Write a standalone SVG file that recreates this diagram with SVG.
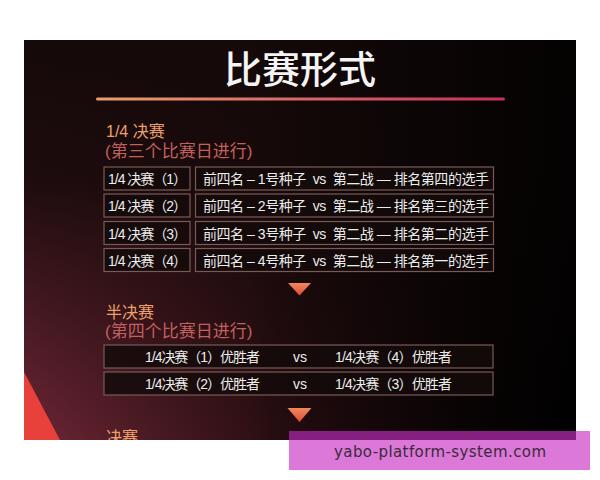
<svg xmlns="http://www.w3.org/2000/svg" width="600" height="480" viewBox="0 0 600 480">
<defs>
<linearGradient id="bgH" x1="0" y1="0" x2="1" y2="0">
<stop offset="0" stop-color="#6e2636"/>
<stop offset="0.45" stop-color="#2a0e12"/>
<stop offset="1" stop-color="#060303"/>
</linearGradient>
<linearGradient id="bgV" x1="0" y1="0" x2="0" y2="1">
<stop offset="0" stop-color="#150909" stop-opacity="1"/>
<stop offset="0.35" stop-color="#150909" stop-opacity="0.9"/>
<stop offset="1" stop-color="#150909" stop-opacity="0"/>
</linearGradient>
<linearGradient id="bgB" x1="0" y1="0" x2="1" y2="0">
<stop offset="0.4" stop-color="#000" stop-opacity="0"/>
<stop offset="1" stop-color="#000" stop-opacity="0.8"/>
</linearGradient>
<linearGradient id="rule" x1="0" y1="0" x2="1" y2="0">
<stop offset="0" stop-color="#e8a070"/>
<stop offset="1" stop-color="#c8305a"/>
</linearGradient>
<linearGradient id="tri" x1="0" y1="0" x2="0" y2="1">
<stop offset="0" stop-color="#f08a5a"/>
<stop offset="1" stop-color="#e04a3a"/>
</linearGradient>
<clipPath id="img"><rect x="24" y="40" width="552" height="400"/></clipPath>
<style>
.box{fill:#140b0b;fill-opacity:0.85;stroke:#7a5a58;stroke-width:1.2}
.t{font-family:"Liberation Sans","Noto Sans CJK SC",sans-serif;font-size:14px;fill:#ececec}
.h{font-family:"Liberation Sans","Noto Sans CJK SC",sans-serif;font-size:16px;fill:#eea06a}
.s{font-family:"Liberation Sans","Noto Sans CJK SC",sans-serif;font-size:17px;fill:#c2605e}
</style>
</defs>
<rect width="600" height="480" fill="#ffffff"/>
<g clip-path="url(#img)">
<rect x="24" y="40" width="552" height="400" fill="url(#bgH)"/>
<rect x="24" y="40" width="552" height="400" fill="url(#bgV)"/>
<rect x="24" y="40" width="552" height="400" fill="url(#bgB)"/>
<polygon points="24,372 60,440 24,440" fill="#e8403a"/>
<text x="300" y="83" text-anchor="middle" font-family="'Noto Sans CJK SC',sans-serif" font-size="38" font-weight="500" fill="#f4f4f4">比赛形式</text>
<rect x="96" y="97.5" width="409" height="3" rx="1.5" fill="url(#rule)"/>
<text class="h" x="106" y="137">1/4 决赛</text>
<text class="s" x="105" y="157">(第三个比赛日进行)</text>
<g id="qf1">
<rect class="box" x="104" y="167" width="86" height="23"/>
<rect class="box" x="195.5" y="167" width="298" height="23"/>
<text class="t" x="108" y="184" textLength="79">1/4 决赛（1）</text>
<text class="t" x="203" y="184" textLength="286" xml:space="preserve">前四名 – 1号种子  vs  第二战 — 排名第四的选手</text>
</g>
<g id="qf2">
<rect class="box" x="104" y="194" width="86" height="23"/>
<rect class="box" x="195.5" y="194" width="298" height="23"/>
<text class="t" x="108" y="211" textLength="79">1/4 决赛（2）</text>
<text class="t" x="203" y="211" textLength="286" xml:space="preserve">前四名 – 2号种子  vs  第二战 — 排名第三的选手</text>
</g>
<g id="qf3">
<rect class="box" x="104" y="221.5" width="86" height="23"/>
<rect class="box" x="195.5" y="221.5" width="298" height="23"/>
<text class="t" x="108" y="238.5" textLength="79">1/4 决赛（3）</text>
<text class="t" x="203" y="238.5" textLength="286" xml:space="preserve">前四名 – 3号种子  vs  第二战 — 排名第二的选手</text>
</g>
<g id="qf4">
<rect class="box" x="104" y="248.5" width="86" height="23"/>
<rect class="box" x="195.5" y="248.5" width="298" height="23"/>
<text class="t" x="108" y="265.5" textLength="79">1/4 决赛（4）</text>
<text class="t" x="203" y="265.5" textLength="286" xml:space="preserve">前四名 – 4号种子  vs  第二战 — 排名第一的选手</text>
</g>
<g id="connectors">
<polygon points="288,283 311,283 299.5,295.5" fill="url(#tri)"/>
<polygon points="287.5,408 311.5,408 299.5,422" fill="url(#tri)"/>
</g>
<text class="h" x="106" y="318">半决赛</text>
<text class="s" x="105" y="337">(第四个比赛日进行)</text>
<g id="sf1">
<rect class="box" x="104" y="345" width="389" height="23"/>
<text class="t" x="145" y="362" textLength="115">1/4决赛（1）优胜者</text>
<text class="t" x="293" y="362">vs</text>
<text class="t" x="335" y="362" textLength="117">1/4决赛（4）优胜者</text>
</g>
<g id="sf2">
<rect class="box" x="104" y="372" width="389" height="23"/>
<text class="t" x="145" y="389" textLength="115">1/4决赛（2）优胜者</text>
<text class="t" x="293" y="389">vs</text>
<text class="t" x="335" y="389" textLength="117">1/4决赛（3）优胜者</text>
</g>
<text class="h" x="106" y="443">决赛</text>
</g>
<rect x="289" y="431" width="301" height="39" fill="#dc78d8"/>
<rect x="289" y="431" width="287" height="9" fill="#862080"/>
<text x="440" y="457" text-anchor="middle" font-family="'DejaVu Sans',sans-serif" font-size="15" fill="#3a2a3a" textLength="212">yabo-platform-system.com</text>
</svg>
